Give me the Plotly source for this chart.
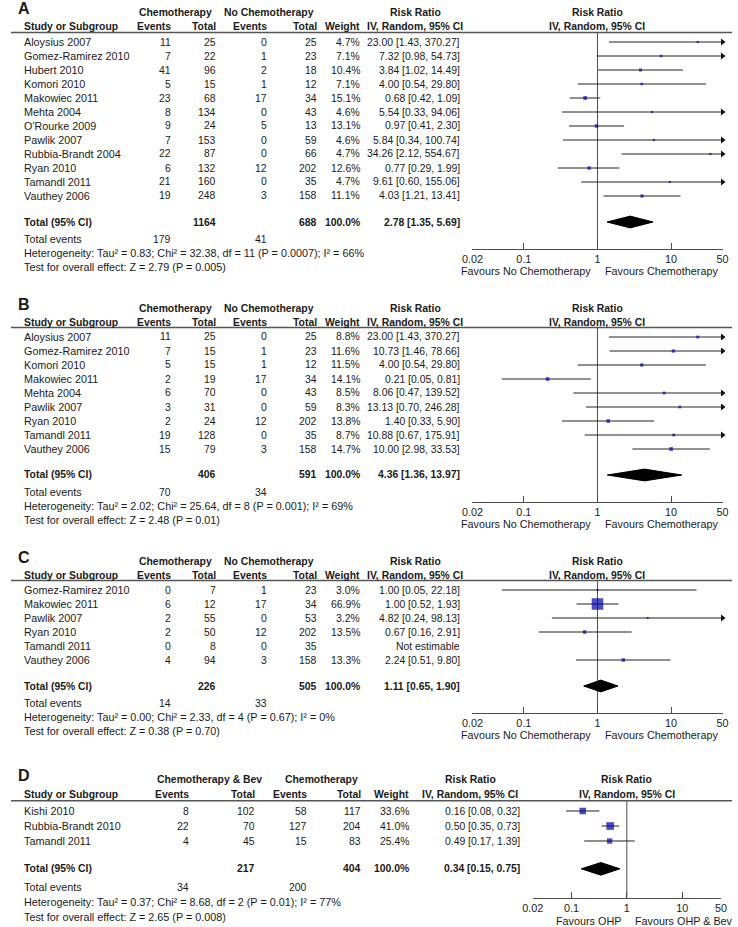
import numpy as np
import plotly.graph_objects as go

W, H = 738, 927
FONT = "Liberation Sans, Arial, sans-serif"
INK = "#1a1a1a"
GREY = "#4d4d4d"
BLUE = "#0000aa"

TICKS = [0.02, 0.1, 1, 10, 50]
TICK_TEXT = ["0.02", "0.1", "1", "10", "50"]

# A: all patients, chemotherapy vs no chemotherapy
a_study = ["Aloysius 2007", "Gomez-Ramirez 2010", "Hubert 2010", "Komori 2010",
           "Makowiec 2011", "Mehta 2004", "O'Rourke 2009", "Pawlik 2007",
           "Rubbia-Brandt 2004", "Ryan 2010", "Tamandl 2011", "Vauthey 2006"]
a_ev1 = [11, 7, 41, 5, 23, 8, 9, 7, 22, 6, 21, 19]
a_tot1 = [25, 22, 96, 15, 68, 134, 24, 153, 87, 132, 160, 248]
a_ev2 = [0, 1, 2, 1, 17, 0, 5, 0, 0, 12, 0, 3]
a_tot2 = [25, 23, 18, 12, 34, 43, 13, 59, 66, 202, 35, 158]
a_weight = [4.7, 7.1, 10.4, 7.1, 15.1, 4.6, 13.1, 4.6, 4.7, 12.6, 4.7, 11.1]
a_rr = [23.00, 7.32, 3.84, 4.00, 0.68, 5.54, 0.97, 5.84, 34.26, 0.77, 9.61, 4.03]
a_lo = [1.43, 0.98, 1.02, 0.54, 0.42, 0.33, 0.41, 0.34, 2.12, 0.29, 0.60, 1.21]
a_hi = [370.27, 54.73, 14.49, 29.80, 1.09, 94.06, 2.30, 100.74, 554.67, 1.99, 155.06, 13.41]
a_totals = [1164, 688]
a_events = [179, 41]
a_pooled = [2.78, 1.35, 5.69]
a_het = "Tau² = 0.83; Chi² = 32.38, df = 11 (P = 0.0007); I² = 66%"
a_z = "Z = 2.79 (P = 0.005)"

# B
b_study = ["Aloysius 2007", "Gomez-Ramirez 2010", "Komori 2010", "Makowiec 2011",
           "Mehta 2004", "Pawlik 2007", "Ryan 2010", "Tamandl 2011", "Vauthey 2006"]
b_ev1 = [11, 7, 5, 2, 6, 3, 2, 19, 15]
b_tot1 = [25, 15, 15, 19, 70, 31, 24, 128, 79]
b_ev2 = [0, 1, 1, 17, 0, 0, 12, 0, 3]
b_tot2 = [25, 23, 12, 34, 43, 59, 202, 35, 158]
b_weight = [8.8, 11.6, 11.5, 14.1, 8.5, 8.3, 13.8, 8.7, 14.7]
b_rr = [23.00, 10.73, 4.00, 0.21, 8.06, 13.13, 1.40, 10.88, 10.00]
b_lo = [1.43, 1.46, 0.54, 0.05, 0.47, 0.70, 0.33, 0.67, 2.98]
b_hi = [370.27, 78.66, 29.80, 0.81, 139.52, 246.28, 5.90, 175.91, 33.53]
b_totals = [406, 591]
b_events = [70, 34]
b_pooled = [4.36, 1.36, 13.97]
b_het = "Tau² = 2.02; Chi² = 25.64, df = 8 (P = 0.001); I² = 69%"
b_z = "Z = 2.48 (P = 0.01)"

# C
c_study = ["Gomez-Ramirez 2010", "Makowiec 2011", "Pawlik 2007", "Ryan 2010",
           "Tamandl 2011", "Vauthey 2006"]
c_ev1 = [0, 6, 2, 2, 0, 4]
c_tot1 = [7, 12, 55, 50, 8, 94]
c_ev2 = [1, 17, 0, 12, 0, 3]
c_tot2 = [23, 34, 53, 202, 35, 158]
c_weight = [3.0, 66.9, 3.2, 13.5, None, 13.3]
c_rr = [1.00, 1.00, 4.82, 0.67, None, 2.24]
c_lo = [0.05, 0.52, 0.24, 0.16, None, 0.51]
c_hi = [22.18, 1.93, 98.13, 2.91, None, 9.80]
c_totals = [226, 505]
c_events = [14, 33]
c_pooled = [1.11, 0.65, 1.90]
c_het = "Tau² = 0.00; Chi² = 2.33, df = 4 (P = 0.67); I² = 0%"
c_z = "Z = 0.38 (P = 0.70)"

# D: chemotherapy & bevacizumab vs chemotherapy
d_study = ["Kishi 2010", "Rubbia-Brandt 2010", "Tamandl 2011"]
d_ev1 = [8, 22, 4]
d_tot1 = [102, 70, 45]
d_ev2 = [58, 127, 15]
d_tot2 = [117, 204, 83]
d_weight = [33.6, 41.0, 25.4]
d_rr = [0.16, 0.50, 0.49]
d_lo = [0.08, 0.35, 0.17]
d_hi = [0.32, 0.73, 1.39]
d_totals = [217, 404]
d_events = [34, 200]
d_pooled = [0.34, 0.15, 0.75]
d_het = "Tau² = 0.37; Chi² = 8.68, df = 2 (P = 0.01); I² = 77%"
d_z = "Z = 2.65 (P = 0.008)"

GROUPS_CHEMO = ["Chemotherapy", "No Chemotherapy"]
FAV_CHEMO = ["Favours No Chemotherapy", "Favours Chemotherapy"]
GROUPS_BEV = ["Chemotherapy & Bev", "Chemotherapy"]
FAV_BEV = ["Favours OHP", "Favours OHP & Bev"]

# column x positions (px)
COLS_ABC = dict(name=11, ev1=166, tot1=212, ev2=264, tot2=315, weight=359, rr=462,
                grp1=168, grp2=264.5, rrhead=414, plot=(472.3, 728.3))
COLS_D = dict(name=11, ev1=184, tot1=252, ev2=305, tot2=360, weight=409, rr=523,
              grp1=203, grp2=318, rrhead=470, plot=(534, 726.7))

SIZE = 10.8      # words
SIZE_NUM = 10.4  # numeric columns
SIZE_B = 10.4    # bold headers / totals

fig = go.Figure()
annotations = []
shapes = []


def text(x, y, s, anchor="left", bold=False, size=None, xref="paper", xshift=0):
    if size is None:
        size = SIZE_B if bold else SIZE
    annotations.append(dict(
        x=x / W if xref == "paper" else x, y=1 - y / H, xref=xref, yref="paper",
        text=f"<b>{s}</b>" if bold else s, xanchor=anchor, yanchor="middle",
        xshift=xshift, showarrow=False, font=dict(family=FONT, size=size, color=INK)))


def num(x, y, s, bold=False):
    text(x, y, s, "right", bold, SIZE_B if bold else SIZE_NUM)


def rr_text(r, lo, hi):
    return "Not estimable" if r is None else f"{r:.2f} [{lo:.2f}, {hi:.2f}]"


def draw_panel(k, letter, study, ev1, tot1, ev2, tot2, weight, rr, lo, hi,
               totals, events, pooled, het, z, groups, fav, c, row0, pitch, s=1.0):
    sfx = "" if k == 1 else str(k)
    xa, ya = "x" + sfx, "y" + sfx
    n = len(study)
    row_py = [row0 + i * pitch for i in range(n)]
    total_py = row_py[-1] + 26 * s
    hline_py = row0 - 9.5 * s
    axis_py = total_py + 27 * s
    to_row = lambda py: (py - row0) / pitch
    xmin, xmax = TICKS[0], TICKS[-1]

    # headers
    text(5, row0 - 33 * s, letter, bold=True, size=16)
    h1, h2 = row0 - 29 * s, row0 - 15 * s
    text(c["grp1"], h1, groups[0], "center", True)
    text(c["grp2"], h1, groups[1], "center", True)
    text(c["rrhead"], h1, "Risk Ratio", "center", True)
    text(c["name"], h2, "Study or Subgroup", "left", True)
    for col, lab in [("ev1", "Events"), ("tot1", "Total"), ("ev2", "Events"),
                     ("tot2", "Total"), ("weight", "Weight")]:
        text(c[col], h2, lab, "right", True)
    text(c["rrhead"], h2, "IV, Random, 95% CI", "center", True)
    text(0, h1, "Risk Ratio", "center", True, xref=xa)
    text(0, h2, "IV, Random, 95% CI", "center", True, xref=xa)
    shapes.append(dict(type="line", xref="paper", yref="paper", x0=0, x1=1,
                       y0=1 - hline_py / H, y1=1 - hline_py / H,
                       line=dict(color="#555", width=1.5)))

    # study rows
    for i, py in enumerate(row_py):
        text(c["name"], py, study[i])
        num(c["ev1"], py, str(ev1[i]))
        num(c["tot1"], py, str(tot1[i]))
        num(c["ev2"], py, str(ev2[i]))
        num(c["tot2"], py, str(tot2[i]))
        if weight[i] is not None:
            num(c["weight"], py, f"{weight[i]:.1f}%")
        num(c["rr"], py, rr_text(rr[i], lo[i], hi[i]))

    # totals and footnotes
    text(c["name"], total_py, "Total (95% CI)", bold=True)
    num(c["tot1"], total_py, str(totals[0]), True)
    num(c["tot2"], total_py, str(totals[1]), True)
    num(c["weight"], total_py, "100.0%", True)
    num(c["rr"], total_py, rr_text(*pooled), True)
    ev_py = total_py + 17 * s
    text(c["name"], ev_py, "Total events")
    num(c["ev1"], ev_py, str(events[0]))
    num(c["ev2"], ev_py, str(events[1]))
    text(c["name"], total_py + 31 * s, "Heterogeneity: " + het)
    text(c["name"], total_py + 45 * s, "Test for overall effect: " + z)
    fav_py = axis_py + 22 * s
    text(0, fav_py, fav[0], "right", xref=xa, xshift=-4)
    text(0, fav_py, fav[1], "left", xref=xa, xshift=6)

    # marks
    top, bottom = to_row(hline_py), to_row(axis_py)
    fig.add_trace(go.Scatter(x=[1, 1], y=[top, bottom], mode="lines",
                             line=dict(color=GREY, width=1), xaxis=xa, yaxis=ya))
    xs, ys, ax_, ay_ = [], [], [], []
    for i, (r, l, h) in enumerate(zip(rr, lo, hi)):
        if r is None:
            continue
        xs += [max(l, xmin), min(h, xmax), None]
        ys += [i, i, None]
        if h > xmax:
            ax_.append(xmax)
            ay_.append(i)
    fig.add_trace(go.Scatter(x=xs, y=ys, mode="lines", line=dict(color="#222", width=1),
                             xaxis=xa, yaxis=ya))
    fig.add_trace(go.Scatter(x=ax_, y=ay_, mode="markers", cliponaxis=False,
                             marker=dict(symbol="triangle-right", size=6, color="#111"),
                             xaxis=xa, yaxis=ya))
    pts = [(r, i, w) for i, (r, w) in enumerate(zip(rr, weight)) if r is not None]
    fig.add_trace(go.Scatter(
        x=[p[0] for p in pts], y=[p[1] for p in pts], mode="markers", cliponaxis=False,
        marker=dict(symbol="square", color=BLUE, size=[1.5 + 0.15 * p[2] for p in pts],
                    line=dict(width=0)),
        xaxis=xa, yaxis=ya))
    t = to_row(total_py)
    d = 0.42
    fig.add_trace(go.Scatter(
        x=[pooled[1], pooled[0], pooled[2], pooled[0], pooled[1]],
        y=[t, t - d, t, t + d, t], mode="lines", fill="toself",
        fillcolor="black", line=dict(color="black", width=1), xaxis=xa, yaxis=ya))

    fig.update_layout({
        "xaxis" + sfx: dict(
            type="log", range=[np.log10(xmin), np.log10(xmax)],
            domain=[c["plot"][0] / W, c["plot"][1] / W], anchor=ya,
            tickvals=TICKS, ticktext=TICK_TEXT, ticks="inside", ticklen=6,
            tickcolor=GREY, showline=True, linecolor=GREY, linewidth=1,
            showgrid=False, zeroline=False, fixedrange=True,
            tickfont=dict(family=FONT, size=SIZE, color=INK)),
        "yaxis" + sfx: dict(
            domain=[1 - axis_py / H, 1 - hline_py / H], range=[bottom, top],
            anchor=xa, visible=False, fixedrange=True),
    })


draw_panel(1, "A", a_study, a_ev1, a_tot1, a_ev2, a_tot2, a_weight, a_rr, a_lo, a_hi,
           a_totals, a_events, a_pooled, a_het, a_z, GROUPS_CHEMO, FAV_CHEMO,
           COLS_ABC, row0=42, pitch=14)
draw_panel(2, "B", b_study, b_ev1, b_tot1, b_ev2, b_tot2, b_weight, b_rr, b_lo, b_hi,
           b_totals, b_events, b_pooled, b_het, b_z, GROUPS_CHEMO, FAV_CHEMO,
           COLS_ABC, row0=337, pitch=14)
draw_panel(3, "C", c_study, c_ev1, c_tot1, c_ev2, c_tot2, c_weight, c_rr, c_lo, c_hi,
           c_totals, c_events, c_pooled, c_het, c_z, GROUPS_CHEMO, FAV_CHEMO,
           COLS_ABC, row0=590, pitch=14)
draw_panel(4, "D", d_study, d_ev1, d_tot1, d_ev2, d_tot2, d_weight, d_rr, d_lo, d_hi,
           d_totals, d_events, d_pooled, d_het, d_z, GROUPS_BEV, FAV_BEV,
           COLS_D, row0=811, pitch=15, s=1.07)

fig.update_layout(
    width=W, height=H, margin=dict(l=0, r=0, t=0, b=0),
    paper_bgcolor="white", plot_bgcolor="white", showlegend=False,
    annotations=annotations, shapes=shapes,
    font=dict(family=FONT, size=SIZE, color=INK),
)
# drop the default page margin so the figure sits at the window's top-left corner
fig.write_html("out.html", config={"displayModeBar": False},
               post_script="document.body.style.margin='0';"
               "document.body.style.overflow='hidden';")
